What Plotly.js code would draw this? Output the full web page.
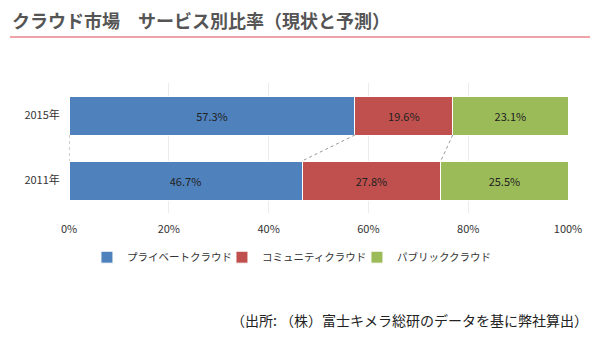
<!DOCTYPE html>
<html><head><meta charset="utf-8">
<script src="https://cdn.plot.ly/plotly-3.0.1.min.js"></script>
<style>html,body{margin:0;padding:0;background:#fff}</style>
</head><body><div id="c" style="width:600px;height:361px"></div>
<script>
const years = ['2011年', '2015年'];
const seriesNames = ['プライベートクラウド', 'コミュニティクラウド', 'パブリッククラウド'];
const privateCloud = [46.7, 57.3];
const communityCloud = [27.8, 19.6];
const publicCloud = [25.5, 23.1];
const xTicks = [0, 20, 40, 60, 80, 100];
const xTickText = ['0%', '20%', '40%', '60%', '80%', '100%'];
const colors = ['#4f81bd', '#c0504d', '#9bbb59'];
const titleText = 'クラウド市場　サービス別比率（現状と予測）';
const sourceText = '（出所: （株）富士キメラ総研のデータを基に弊社算出）';

const font = 'Noto Sans CJK JP, sans-serif';
const pos = years.map((_, i) => i);
const barW = 0.6;
const series = [privateCloud, communityCloud, publicCloud];
const traces = series.map((vals, k) => ({
  type: 'bar', orientation: 'h', name: seriesNames[k],
  y: pos, x: vals, width: barW,
  marker: {color: colors[k], line: {color: '#ffffff', width: 1}},
  text: vals.map(v => v.toFixed(1) + '%'), textposition: 'inside', insidetextanchor: 'middle',
  textfont: {family: font, size: 11, color: '#222'},
  hoverinfo: 'none'
}));
// connector lines between cumulative boundaries
const cum = [0, 0];
const bounds = [[0, 0]];
series.slice(0, 2).forEach(vals => {
  cum[0] += vals[0]; cum[1] += vals[1];
  bounds.push([cum[0], cum[1]]);
});
bounds.forEach(b => {
  traces.push({
    type: 'scatter', mode: 'lines', showlegend: false, hoverinfo: 'none',
    x: [b[1], b[0]], y: [1 - barW / 2, 0 + barW / 2],
    line: {color: '#999', width: 1, dash: 'dot'}
  });
});

const layout = {
  width: 600, height: 361,
  margin: {l: 69, r: 32, t: 83, b: 148},
  paper_bgcolor: '#fff', plot_bgcolor: '#fff',
  barmode: 'stack',
  showlegend: true,
  font: {family: font, size: 11, color: '#333'},
  xaxis: {range: [0, 100], tickvals: xTicks, ticktext: xTickText, showgrid: true,
    gridcolor: '#ececec', zeroline: false, showline: false,
    ticks: 'outside', ticklen: 6, tickcolor: 'rgba(0,0,0,0)',
    tickfont: {family: font, size: 11, color: '#333'}},
  yaxis: {range: [-0.5, 1.5], tickvals: pos, ticktext: years, showgrid: false, zeroline: false,
    showline: false, ticks: 'outside', ticklen: 6, tickcolor: 'rgba(0,0,0,0)',
    tickfont: {family: font, size: 11, color: '#333'}},
  legend: {orientation: 'h', x: 0.036, xanchor: 'left', y: -0.34, yanchor: 'middle',
    entrywidth: 90, entrywidthmode: 'pixels', itemwidth: 30, traceorder: 'normal',
    font: {family: font, size: 10.5, color: '#333'}},
  shapes: [{type: 'line', xref: 'paper', yref: 'paper', x0: -59 / 499, x1: 521 / 499,
    y0: (213 - 37) / 130, y1: (213 - 37) / 130, line: {color: '#e8848c', width: 1.5}}],
  annotations: [
    {text: titleText, xref: 'paper', yref: 'paper', x: -59 / 499, xanchor: 'left',
      y: (213 - 20) / 130, yanchor: 'middle', showarrow: false,
      font: {family: font, size: 18, color: '#555555', weight: 'bold'}},
    {text: sourceText, xref: 'paper', yref: 'paper', x: 521 / 499, xanchor: 'right',
      y: (213 - 320) / 130, yanchor: 'middle', showarrow: false,
      font: {family: font, size: 14, color: '#222'}}
  ]
};
Plotly.newPlot('c', traces, layout, {displayModeBar: false, staticPlot: true});
</script></body></html>
